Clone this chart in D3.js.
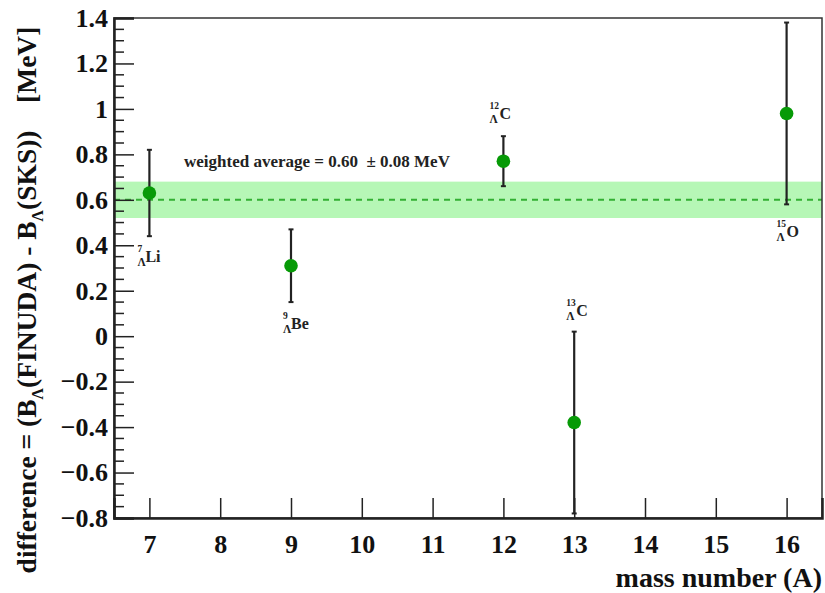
<!DOCTYPE html>
<html>
<head>
<meta charset="utf-8">
<script src="https://cdn.jsdelivr.net/npm/d3@7"></script>
<style>
  html, body { margin: 0; padding: 0; background: #fff; }
</style>
</head>
<body>
<svg id="chart" width="825" height="593" font-family="Liberation Serif" font-weight="bold"></svg>
<script>
// Binding-energy differences per hypernucleus (MeV)
const massNumbers = [7, 9, 12, 13, 16];
const differences = [0.63, 0.31, 0.77, -0.38, 0.98];
const errors = [0.19, 0.16, 0.11, 0.40, 0.40];
const massLabels = ["7", "9", "12", "13", "15"];
const elements = ["Li", "Be", "C", "C", "O"];
// label offsets relative to each point (px)
const labelDx = [-12, -8, -14, -8, -10];
const labelDy = [69, 63, -42, -107, 124];

const weightedAverage = 0.60;
const weightedError = 0.08;

const xTicks = [7, 8, 9, 10, 11, 12, 13, 14, 15, 16];
const yTicks = [-0.8, -0.6, -0.4, -0.2, 0, 0.2, 0.4, 0.6, 0.8, 1, 1.2, 1.4];

const svg = d3.select("#chart");
const plotLeft = 114, plotRight = 822, plotTop = 18, plotBottom = 518;
const serif = '"Liberation Serif", serif';

const x = d3.scaleLinear().domain([6.5, 16.5]).range([plotLeft, plotRight]);
const y = d3.scaleLinear().domain([-0.8, 1.4]).range([plotBottom, plotTop]);

// weighted-average band
svg.append("rect")
  .attr("x", plotLeft).attr("width", plotRight - plotLeft)
  .attr("y", y(weightedAverage + weightedError))
  .attr("height", y(weightedAverage - weightedError) - y(weightedAverage + weightedError))
  .attr("fill", "#b6f7b6");

svg.append("line")
  .attr("x1", plotLeft).attr("x2", plotRight)
  .attr("y1", y(weightedAverage)).attr("y2", y(weightedAverage))
  .attr("stroke", "#33b033").attr("stroke-width", 2)
  .attr("stroke-dasharray", "6,5");

// frame
svg.append("rect")
  .attr("x", plotLeft).attr("y", plotTop)
  .attr("width", plotRight - plotLeft).attr("height", plotBottom - plotTop)
  .attr("fill", "none").attr("stroke", "#333").attr("stroke-width", 1.5);

// y axis
const yAxis = d3.axisLeft(y).tickValues(yTicks)
  .tickSize(-20).tickPadding(8)
  .tickFormat(d => d3.format("")(+d.toFixed(1)));
const gy = svg.append("g").attr("transform", `translate(${plotLeft},0)`).call(yAxis);
gy.attr("font-family", serif).attr("font-weight", "bold");
gy.select(".domain").attr("stroke", "#222").attr("stroke-width", 2.5);
gy.selectAll(".tick line").attr("stroke", "#222").attr("stroke-width", 1.5);
gy.selectAll(".tick text").attr("x", -6).attr("font-size", 26).attr("fill", "#111");

// y minor ticks
const yMinor = d3.range(-0.8, 1.4001, 0.05).filter(v => Math.abs(Math.round(v * 5) - v * 5) > 1e-6);
svg.append("g").selectAll("line").data(yMinor).join("line")
  .attr("x1", plotLeft).attr("x2", plotLeft + 10)
  .attr("y1", d => y(d)).attr("y2", d => y(d))
  .attr("stroke", "#222").attr("stroke-width", 1.5);

// x axis
const xAxis = d3.axisBottom(x).tickValues(xTicks)
  .tickSize(-20).tickPadding(10).tickFormat(d3.format("d"));
const gx = svg.append("g").attr("transform", `translate(0,${plotBottom})`).call(xAxis);
gx.attr("font-family", serif).attr("font-weight", "bold");
gx.select(".domain").attr("stroke", "#222").attr("stroke-width", 2.5);
gx.selectAll(".tick line").attr("stroke", "#222").attr("stroke-width", 1.5);
gx.selectAll(".tick text").attr("y", 17).attr("font-size", 26).attr("fill", "#111");

// axis titles
svg.append("text")
  .attr("x", plotRight).attr("y", 587)
  .attr("text-anchor", "end").attr("font-size", 28).attr("fill", "#111")
  .text("mass number (A)");

const yt = svg.append("text")
  .attr("transform", `translate(36,300) rotate(-90)`)
  .attr("text-anchor", "middle").attr("font-size", 27.5).attr("fill", "#111");
yt.append("tspan").text("difference = (B");
yt.append("tspan").attr("dy", 7).attr("font-size", 16).text("Λ");
yt.append("tspan").attr("dy", -7).text("(FINUDA) - B");
yt.append("tspan").attr("dy", 7).attr("font-size", 16).text("Λ");
yt.append("tspan").attr("dy", -7).text("(SKS))\u00a0\u00a0\u00a0\u00a0[MeV]");

// weighted average annotation
svg.append("text")
  .attr("x", 184).attr("y", 167).attr("font-size", 17).attr("fill", "#222")
  .text(`weighted average = ${weightedAverage.toFixed(2)}\u00a0\u00a0± ${weightedError.toFixed(2)} MeV`);

// error bars and points
const pts = massNumbers.map((a, i) => ({ a, v: differences[i], e: errors[i], i }));
const clampY = v => Math.max(-0.8, Math.min(1.4, v));

svg.append("g").selectAll("line").data(pts).join("line")
  .attr("x1", d => x(d.a)).attr("x2", d => x(d.a))
  .attr("y1", d => y(clampY(d.v + d.e))).attr("y2", d => y(clampY(d.v - d.e)))
  .attr("stroke", "#222").attr("stroke-width", 2.2);

// small end marks on each error bar
const caps = pts.flatMap(d => [clampY(d.v + d.e), clampY(d.v - d.e)].map(v => ({ a: d.a, v })));
svg.append("g").selectAll("line").data(caps).join("line")
  .attr("x1", d => x(d.a) - 2.5).attr("x2", d => x(d.a) + 2.5)
  .attr("y1", d => y(d.v)).attr("y2", d => y(d.v))
  .attr("stroke", "#222").attr("stroke-width", 2);

svg.append("g").selectAll("circle").data(pts).join("circle")
  .attr("cx", d => x(d.a)).attr("cy", d => y(d.v)).attr("r", 6.8)
  .attr("fill", "#079a07");

// hypernucleus labels: superscript mass, subscript Lambda, element
const lab = svg.append("g").selectAll("g").data(pts).join("g")
  .attr("transform", d => `translate(${x(d.a) + labelDx[d.i]},${y(d.v) + labelDy[d.i]})`)
  .attr("fill", "#222");
lab.append("text").attr("x", 0).attr("y", -10).attr("font-size", 9.5).text(d => massLabels[d.i]);
lab.append("text").attr("x", 0).attr("y", 4).attr("font-size", 11.5).text("Λ");
lab.append("text").attr("x", d => massLabels[d.i].length > 1 ? 10 : 8).attr("y", 0).attr("font-size", 16)
  .text(d => elements[d.i]);
</script>
</body>
</html>
